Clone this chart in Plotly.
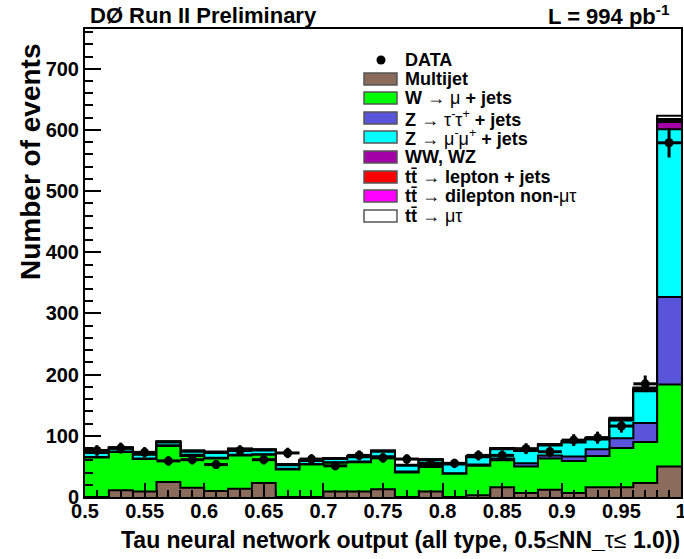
import numpy as np
import plotly.graph_objects as go

# ---------------- data ----------------
bin_lo = [0.50, 0.52, 0.54, 0.56, 0.58, 0.60, 0.62, 0.64, 0.66, 0.68,
          0.70, 0.72, 0.74, 0.76, 0.78, 0.80, 0.82, 0.84, 0.86, 0.88,
          0.90, 0.92, 0.94, 0.96, 0.98]
bin_width = 0.02

multijet = [0, 11, 9, 24.5, 15, 10, 13.5, 23, 0, 0,
            9, 9, 12.5, 0, 9, 0, 3, 16, 6.5, 12,
            6.5, 16, 16, 23, 50]
w_mu = [64.5, 62.5, 53, 59, 52, 53, 54.5, 46, 45, 53,
        47, 48, 53, 40, 40, 38, 48, 44, 43.5, 51,
        52.5, 51, 64, 67, 134]
z_tautau = [1, 1, 1, 1, 2, 1, 1, 1, 1, 1,
            1, 1, 1, 1.5, 3, 1, 2, 3, 5, 5,
            7, 11, 16, 31, 143]
z_mumu = [6.5, 4.5, 6, 4.5, 5, 8, 8, 6, 6, 5,
          5, 7, 7.5, 9.5, 8, 14, 12, 15, 20, 16,
          23, 16, 29, 52, 274]
ww_wz = [1, 1, 1, 1, 1, 1, 1, 1, 0.8, 0.8,
         0.8, 0.8, 1, 0.8, 0.8, 0.8, 1, 1, 1, 1.2,
         1.3, 1.4, 1.8, 2.5, 12]
tt_ljets = [0.4, 0.4, 0.4, 0.4, 0.4, 0.4, 0.4, 0.4, 0.3, 0.3,
            0.3, 0.3, 0.4, 0.3, 0.3, 0.3, 0.4, 0.4, 0.4, 0.4,
            0.5, 0.5, 0.6, 0.8, 2]
tt_dilep = [0.3, 0.3, 0.3, 0.3, 0.3, 0.3, 0.3, 0.3, 0.3, 0.3,
            0.3, 0.3, 0.3, 0.3, 0.3, 0.3, 0.3, 0.3, 0.3, 0.4,
            0.4, 0.5, 0.6, 0.8, 3]
tt_mutau = [0.5, 0.5, 0.5, 0.5, 0.5, 0.5, 0.5, 0.5, 0.4, 0.4,
            0.4, 0.4, 0.5, 0.4, 0.4, 0.4, 0.5, 0.5, 0.6, 0.7,
            0.8, 1.0, 1.5, 2.0, 5]
data = [76, 80, 73, 59, 61, 53, 76, 61, 72, 62,
        51, 68, 64, 62, 55, 55, 68, 68, 79, 74,
        93, 97, 116, 185, 579]

components = [
    ("Multijet", multijet, "#8B6B5B"),
    ("W → μ + jets", w_mu, "#00FF00"),
    ("Z → ττ + jets", z_tautau, "#5954D9"),
    ("Z → μμ + jets", z_mumu, "#00FFFF"),
    ("WW, WZ", ww_wz, "#A400A8"),
    ("tt → lepton + jets", tt_ljets, "#FF0000"),
    ("tt → dilepton non-μτ", tt_dilep, "#FF00FF"),
    ("tt → μτ", tt_mutau, "#FFFFFF"),
]

legend_labels = [
    "Multijet",
    "W <span style='font-weight:normal'>→ μ</span> + jets",
    "Z <span style='font-weight:normal'>→ τ<sup>-</sup>τ<sup>+</sup></span> + jets",
    "Z <span style='font-weight:normal'>→ μ<sup>-</sup>μ<sup>+</sup></span> + jets",
    "WW, WZ",
    "tt\u0304 <span style='font-weight:normal'>→</span> lepton + jets",
    "tt\u0304 <span style='font-weight:normal'>→</span> dilepton non-<span style='font-weight:normal'>μτ</span>",
    "tt\u0304 <span style='font-weight:normal'>→ μτ</span>",
]

FONT = "Liberation Sans, Arial, Helvetica, sans-serif"

# ---------------- geometry helpers ----------------
W, H = 684, 559
L, R, T, B = 85, 3, 29, 62
PW, PH = W - L - R, H - T - B


def px(x):
    return (x - L) / PW


def py(y):
    return (H - B - y) / PH


edges = list(bin_lo) + [bin_lo[-1] + bin_width]
centers = [b + bin_width / 2 for b in bin_lo]

fig = go.Figure()

# cumulative stack, drawn from top level down so lower levels overlay
cum = np.cumsum(np.array([c[1] for c in components], dtype=float), axis=0)
for i in range(len(components) - 1, -1, -1):
    vals = list(cum[i]) + [cum[i][-1]]
    fig.add_trace(go.Scatter(
        x=edges, y=vals, mode="lines", line=dict(shape="hv", color="black", width=2),
        fill="tozeroy", fillcolor=components[i][2], showlegend=False, hoverinfo="skip"))

# data points
errs = [np.sqrt(v) for v in data]
fig.add_trace(go.Scatter(
    x=centers, y=data, mode="markers",
    marker=dict(color="black", size=9, symbol="circle"),
    error_y=dict(type="data", array=errs, visible=True, color="black", thickness=3, width=0),
    error_x=dict(type="constant", value=bin_width / 2, visible=True, color="black", thickness=3, width=0),
    showlegend=False))

# ---------------- manual legend ----------------
shapes = []
annotations = []
legend_x0, legend_x1 = 364, 397
text_x = 403
row_y = [60, 79, 98, 118, 137, 157, 177, 196, 216]

# DATA entry
fig.add_trace(go.Scatter(x=[px(381)], y=[py(row_y[0])], xaxis="x2", yaxis="y2", mode="markers",
                         marker=dict(color="black", size=9), showlegend=False, hoverinfo="skip"))
annotations.append(dict(x=px(text_x), y=py(row_y[0]), xref="paper", yref="paper", text="<b>DATA</b>",
                        showarrow=False, xanchor="left", yanchor="middle",
                        font=dict(family=FONT, size=18, color="black")))
for k, (name, _, col) in enumerate(components):
    yc = row_y[k + 1]
    shapes.append(dict(type="rect", xref="paper", yref="paper",
                       x0=px(legend_x0), x1=px(legend_x1), y0=py(yc - 6), y1=py(yc + 6),
                       fillcolor=col, line=dict(color="#555555", width=1.5)))
    annotations.append(dict(x=px(text_x), y=py(yc), xref="paper", yref="paper",
                            text="<b>" + legend_labels[k] + "</b>", showarrow=False,
                            xanchor="left", yanchor="middle",
                            font=dict(family=FONT, size=18, color="black")))

# titles
annotations.append(dict(x=px(88), y=py(15), xref="paper", yref="paper", text="<b>DØ Run II Preliminary</b>",
                        showarrow=False, xanchor="left", yanchor="middle",
                        font=dict(family=FONT, size=22, color="black")))
annotations.append(dict(x=px(672), y=py(15), xref="paper", yref="paper", text="<b>L = 994 pb<sup>-1</sup></b>",
                        showarrow=False, xanchor="right", yanchor="middle",
                        font=dict(family=FONT, size=22, color="black")))
annotations.append(dict(x=px(682), y=py(540), xref="paper", yref="paper",
                        text="<b>Tau neural network output (all type, 0.5<span style='font-weight:normal'>≤</span>NN_<span style='font-weight:normal'>τ≤</span> 1.0))</b>",
                        showarrow=False, xanchor="right", yanchor="middle",
                        font=dict(family=FONT, size=23, color="black")))
annotations.append(dict(x=px(30), y=py(162), xref="paper", yref="paper", text="<b>Number of events</b>",
                        textangle=-90, showarrow=False, xanchor="center", yanchor="middle",
                        font=dict(family=FONT, size=28, color="black")))

fig.update_layout(
    width=W, height=H,
    margin=dict(l=L, r=R, t=T, b=B, pad=0),
    plot_bgcolor="white", paper_bgcolor="white",
    shapes=shapes, annotations=annotations,
    xaxis=dict(range=[0.5, 1.0], tickmode="linear", tick0=0.5, dtick=0.05,
               ticks="inside", ticklen=14, tickwidth=1.5, tickcolor="black",
               minor=dict(dtick=0.01, ticks="inside", ticklen=7, tickwidth=1.5, tickcolor="black"),
               showline=True, linecolor="black", linewidth=2, mirror=True,
               showgrid=False, zeroline=False, automargin=False, ticklabeloverflow="allow",
               ticklabelstandoff=-5,
               tickfont=dict(family=FONT, size=20, color="black", weight="bold")),
    yaxis=dict(range=[0, 765], tickmode="linear", tick0=0, dtick=100,
               ticks="inside", ticklen=16, tickwidth=1.5, tickcolor="black",
               minor=dict(dtick=20, ticks="inside", ticklen=8, tickwidth=1.5, tickcolor="black"),
               showline=True, linecolor="black", linewidth=2, mirror=True,
               showgrid=False, zeroline=False, automargin=False, ticklabeloverflow="allow",
               tickfont=dict(family=FONT, size=20, color="black", weight="bold")),
    xaxis2=dict(range=[0, 1], domain=[0, 1], visible=False, overlaying="x", anchor="y2"),
    yaxis2=dict(range=[0, 1], domain=[0, 1], visible=False, overlaying="y", anchor="x2"),
)

fig.write_html("out.html", config={"displayModeBar": False},
               post_script="document.body.style.margin='0';document.body.style.overflow='hidden';")
